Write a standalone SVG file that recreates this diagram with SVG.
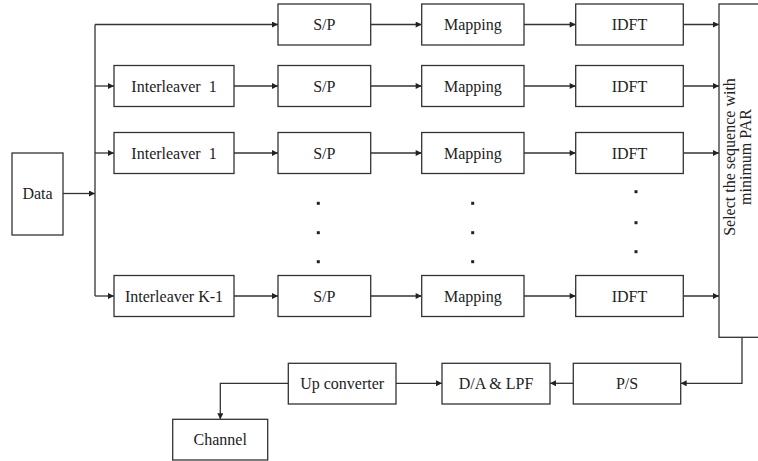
<svg xmlns="http://www.w3.org/2000/svg" width="758" height="461" viewBox="0 0 758 461">
<defs>
<marker id="ah" viewBox="0 0 10 10" refX="10" refY="5" markerWidth="9" markerHeight="6" markerUnits="userSpaceOnUse" orient="auto">
<path d="M0,0 L10,5 L0,10 z" fill="#222"/>
</marker>
<style>
.box{fill:#fff;stroke:#333;stroke-width:1.3}
.t{font-family:"Liberation Serif","Times New Roman",serif;font-size:16px;fill:#222;text-anchor:middle}
.c{fill:none;stroke:#333;stroke-width:1.3}
.a{marker-end:url(#ah)}
.dot{fill:#222}
</style>
</defs>
<rect width="758" height="461" fill="#fff"/>
<g id="connectors">
<path class="c a" d="M63,193.5 H95"/>
<path class="c" d="M95,24.5 V296"/>
<path class="c a" d="M95,24.5 H278"/>
<path class="c a" d="M95,86 H114"/>
<path class="c a" d="M95,153 H114"/>
<path class="c a" d="M95,296 H114"/>
<path class="c a" d="M234,86 H278"/>
<path class="c a" d="M234,153 H278"/>
<path class="c a" d="M234,296 H278"/>
<path class="c a" d="M370.7,24.5 H421.7"/>
<path class="c a" d="M370.7,86 H421.7"/>
<path class="c a" d="M370.7,153 H421.7"/>
<path class="c a" d="M370.7,296 H421.7"/>
<path class="c a" d="M524,24.5 H575.7"/>
<path class="c a" d="M524,86 H575.7"/>
<path class="c a" d="M524,153 H575.7"/>
<path class="c a" d="M524,296 H575.7"/>
<path class="c a" d="M683.3,24.5 H719"/>
<path class="c a" d="M683.3,86 H719"/>
<path class="c a" d="M683.3,153 H719"/>
<path class="c a" d="M683.3,296 H719"/>
<path class="c a" d="M742,337.3 V383.3 H680.7"/>
<path class="c a" d="M573.3,383.3 H550"/>
<path class="c a" d="M396,383.3 H442"/>
<path class="c a" d="M288.3,383.3 H220.3 V419.3"/>
</g>
<g id="dots">
<rect class="dot" x="316.8" y="201.8" width="3" height="3"/>
<rect class="dot" x="316.8" y="231.2" width="3" height="3"/>
<rect class="dot" x="316.8" y="260.2" width="3" height="3"/>
<rect class="dot" x="471.2" y="201.8" width="3" height="3"/>
<rect class="dot" x="471.2" y="231.2" width="3" height="3"/>
<rect class="dot" x="471.2" y="260.2" width="3" height="3"/>
<rect class="dot" x="634.5" y="190.2" width="3" height="3"/>
<rect class="dot" x="634.5" y="221.2" width="3" height="3"/>
<rect class="dot" x="634.5" y="250.2" width="3" height="3"/>
</g>
<g id="data"><rect class="box" x="12" y="153" width="51" height="82"/><text class="t" x="37.5" y="199">Data</text></g>
<g id="il1a"><rect class="box" x="114" y="65.5" width="120" height="41"/><text class="t" x="174" y="91.5" xml:space="preserve">Interleaver  1</text></g>
<g id="il1b"><rect class="box" x="114" y="132.5" width="120" height="41"/><text class="t" x="174" y="158.5" xml:space="preserve">Interleaver  1</text></g>
<g id="ilk"><rect class="box" x="114" y="275.5" width="120" height="41"/><text class="t" x="174" y="301.5">Interleaver K-1</text></g>
<g id="sp1"><rect class="box" x="278" y="4" width="92.7" height="41"/><text class="t" x="324.3" y="30">S/P</text></g>
<g id="sp2"><rect class="box" x="278" y="65.5" width="92.7" height="41"/><text class="t" x="324.3" y="91.5">S/P</text></g>
<g id="sp3"><rect class="box" x="278" y="132.5" width="92.7" height="41"/><text class="t" x="324.3" y="158.5">S/P</text></g>
<g id="sp4"><rect class="box" x="278" y="275.5" width="92.7" height="41"/><text class="t" x="324.3" y="301.5">S/P</text></g>
<g id="map1"><rect class="box" x="421.7" y="4" width="102.3" height="41"/><text class="t" x="472.8" y="30">Mapping</text></g>
<g id="map2"><rect class="box" x="421.7" y="65.5" width="102.3" height="41"/><text class="t" x="472.8" y="91.5">Mapping</text></g>
<g id="map3"><rect class="box" x="421.7" y="132.5" width="102.3" height="41"/><text class="t" x="472.8" y="158.5">Mapping</text></g>
<g id="map4"><rect class="box" x="421.7" y="275.5" width="102.3" height="41"/><text class="t" x="472.8" y="301.5">Mapping</text></g>
<g id="idft1"><rect class="box" x="575.7" y="4" width="107.6" height="41"/><text class="t" x="629.5" y="30">IDFT</text></g>
<g id="idft2"><rect class="box" x="575.7" y="65.5" width="107.6" height="41"/><text class="t" x="629.5" y="91.5">IDFT</text></g>
<g id="idft3"><rect class="box" x="575.7" y="132.5" width="107.6" height="41"/><text class="t" x="629.5" y="158.5">IDFT</text></g>
<g id="idft4"><rect class="box" x="575.7" y="275.5" width="107.6" height="41"/><text class="t" x="629.5" y="301.5">IDFT</text></g>
<g id="select"><rect class="box" x="719" y="4" width="60" height="333.3"/>
<text class="t" transform="translate(735,157) rotate(-90)">Select the sequence with</text>
<text class="t" transform="translate(751,157) rotate(-90)">minimum PAR</text></g>
<g id="ps"><rect class="box" x="573.3" y="363.3" width="107.4" height="40.7"/><text class="t" x="627" y="389">P/S</text></g>
<g id="da"><rect class="box" x="442" y="363.3" width="108" height="40.7"/><text class="t" x="496" y="389">D/A &amp; LPF</text></g>
<g id="up"><rect class="box" x="288.3" y="363.3" width="107.7" height="40.7"/><text class="t" x="342.2" y="389">Up converter</text></g>
<g id="channel"><rect class="box" x="172.7" y="419.3" width="95" height="40.7"/><text class="t" x="220.2" y="445">Channel</text></g>
</svg>
